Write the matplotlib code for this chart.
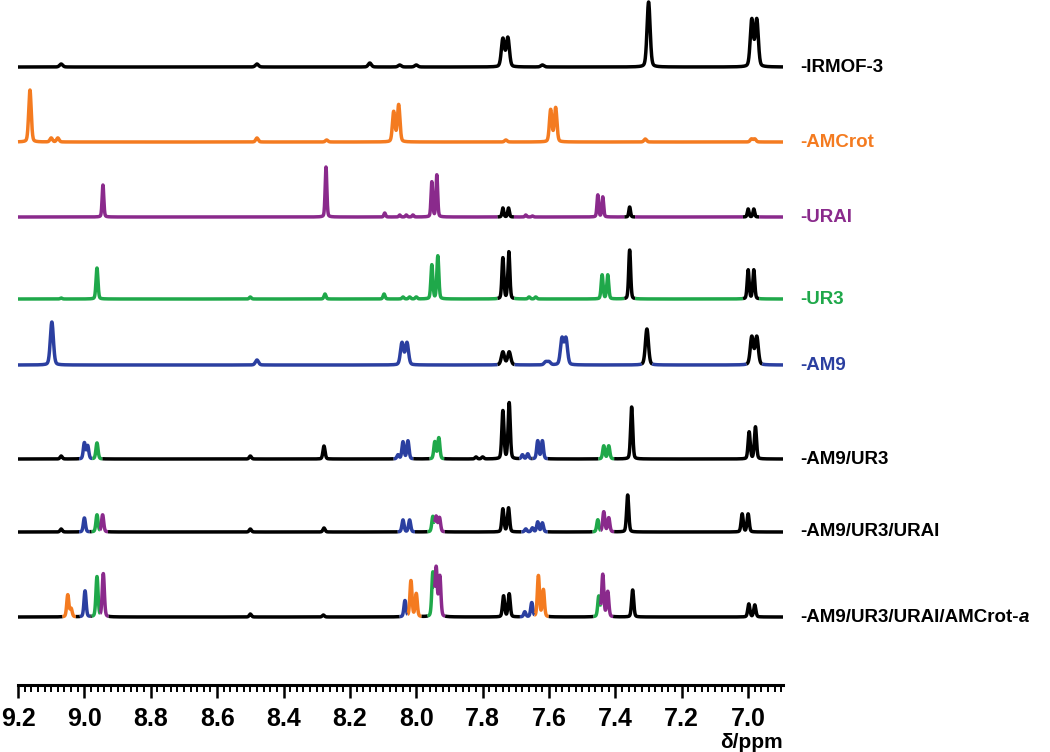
"""
Stacked 1H NMR spectra: IRMOF-3 and its modified forms.
Spectra are drawn as sums of pseudo-Voigt lines from the peak lists below.
"""
import numpy as np
import matplotlib
matplotlib.use("Agg")
import matplotlib.pyplot as plt

# peak lists per spectrum: (ppm, height, colour key); None -> trace colour
IRMOF3 = [(9.07, 3, None), (8.48, 3, None), (8.14, 4, None), (8.05, 2, None),
          (8.00, 2, None), (7.739, 28, None), (7.724, 29, None), (7.62, 2, None),
          (7.30, 65, None), (6.989, 47, None), (6.974, 47, None)]
AMCROT = [(9.164, 52, None), (9.10, 4, None), (9.08, 4, None), (8.48, 4, None),
          (8.27, 2, None), (8.068, 30, None), (8.053, 37, None), (7.73, 2, None),
          (7.595, 32, None), (7.58, 34, None), (7.31, 3, None), (6.99, 3, None),
          (6.98, 3, None)]
URAI = [(8.944, 32, None), (8.272, 50, None), (8.095, 4, None), (8.05, 2, None),
        (8.03, 2, None), (8.01, 2, None), (7.953, 35, None), (7.938, 42, None),
        (7.739, 9, "k"), (7.722, 9, "k"), (7.67, 2, None), (7.65, 1, None),
        (7.453, 22, None), (7.438, 20, None), (7.357, 10, "k"),
        (7.0, 8, "k"), (6.983, 8, "k")]
UR3 = [(9.07, 1, None), (8.962, 31, None), (8.50, 2, None), (8.275, 5, None),
       (8.097, 5, None), (8.04, 2, None), (8.02, 2, None), (8.0, 2, None),
       (7.953, 34, None), (7.935, 43, None), (7.739, 41, "k"), (7.721, 47, "k"),
       (7.66, 2, None), (7.64, 2, None), (7.44, 24, None), (7.423, 24, None),
       (7.357, 49, "k"), (7.0, 29, "k"), (6.983, 29, "k")]
AM9 = [(9.098, 43, None), (8.48, 5, None), (8.043, 22, None), (8.028, 22, None),
       (7.739, 13, "k"), (7.72, 13, "k"), (7.61, 3, None), (7.60, 3, None),
       (7.561, 26, None), (7.549, 26, None), (7.305, 36, "k"),
       (6.989, 28, "k"), (6.974, 28, "k")]
AM9_UR3 = [(9.07, 3, None), (9.0, 16, "b"), (8.99, 13, "b"), (8.962, 16, "g"),
           (8.50, 3, None), (8.278, 13, None), (8.055, 4, "b"), (8.04, 17, "b"),
           (8.025, 18, "b"), (7.944, 17, "g"), (7.932, 21, "g"), (7.82, 2, None),
           (7.80, 2, None), (7.739, 48, None), (7.72, 56, None), (7.68, 4, "b"),
           (7.664, 5, "b"), (7.634, 18, "b"), (7.62, 18, "b"), (7.435, 13, "g"),
           (7.42, 13, "g"), (7.351, 52, None), (6.997, 27, None), (6.978, 32, None)]
AM9_UR3_URAI = [(9.07, 3, None), (9.0, 14, "b"), (8.962, 17, "g"), (8.945, 17, "p"),
                (8.50, 3, None), (8.278, 4, None), (8.04, 12, "b"), (8.02, 12, "b"),
                (7.95, 15, "g"), (7.94, 15, "p"), (7.93, 14, "p"), (7.739, 23, None),
                (7.722, 24, None), (7.67, 3, "b"), (7.65, 4, "b"), (7.634, 10, "b"),
                (7.62, 9, "b"), (7.453, 12, "g"), (7.435, 20, "p"), (7.42, 14, "p"),
                (7.363, 37, None), (7.018, 18, None), (7.0, 18, None)]
ALL4 = [(9.05, 22, "o"), (9.04, 8, "o"), (8.998, 26, "b"), (8.962, 40, "g"),
        (8.943, 43, "p"), (8.50, 3, None), (8.28, 2, None), (8.034, 16, "b"),
        (8.016, 36, "o"), (8.0, 23, "o"), (7.95, 43, "g"), (7.94, 48, "p"),
        (7.929, 40, "p"), (7.737, 21, None), (7.72, 23, None), (7.673, 5, "b"),
        (7.652, 14, "b"), (7.632, 41, "o"), (7.617, 27, "o"), (7.45, 20, "g"),
        (7.438, 42, "p"), (7.423, 25, "p"), (7.348, 27, None), (6.998, 13, None),
        (6.98, 12, None)]

SPECTRA = [IRMOF3, AMCROT, URAI, UR3, AM9, AM9_UR3, AM9_UR3_URAI, ALL4]
LABELS = ["-IRMOF-3", "-AMCrot", "-URAI", "-UR3", "-AM9",
          "-AM9/UR3", "-AM9/UR3/URAI", "-AM9/UR3/URAI/AMCrot-"]
BASE = ["k", "o", "p", "g", "b", "k", "k", "k"]

# layout / style
OFFSET = [618, 543, 468, 386, 320, 226, 153, 68]   # baseline heights (axes units)
HWHM = [0.0055, 0.0045, 0.003, 0.0035, 0.0055, 0.0038, 0.0038, 0.0038]
ETA = 0.25                                          # Lorentzian fraction
COL = {"k": "#000000", "o": "#F47B20", "p": "#8A2A8C", "g": "#1FA84A", "b": "#2B3FA0"}
WIN = 0.016
X0, X1 = 9.2, 6.895
BOLD = ["Liberation Sans", "DejaVu Sans"]

fig = plt.figure(figsize=(10.5, 7.52), dpi=100)
ax = fig.add_axes([18 / 1050, 1 - 685 / 752, 765 / 1050, 685 / 752])
ax.set_xlim(X0, X1)
ax.set_ylim(0, 685)

x = np.linspace(X0, X1, 6000)
for peaks, base, off, w in zip(SPECTRA, BASE, OFFSET, HWHM):
    contrib = []
    for c, h, _ in peaks:
        d = (x - c) / w
        contrib.append(h * (ETA / (1 + d ** 2) + (1 - ETA) * np.exp(-np.log(2) * d ** 2)))
    contrib = np.array(contrib)
    y = contrib.sum(axis=0)
    top = contrib.argmax(axis=0)
    centers = np.array([c for c, _, _ in peaks])
    keys = [k if k else base for _, _, k in peaks]
    near = np.abs(x - centers[top]) < WIN
    cols = [keys[t] if n else base for t, n in zip(top, near)]
    # draw runs of the same colour
    start = 0
    for i in range(1, len(x) + 1):
        if i == len(x) or cols[i] != cols[start]:
            end = min(i + 1, len(x))
            ax.plot(x[start:end], y[start:end] + off, color=COL[cols[start]],
                    lw=2.5, solid_capstyle="butt", solid_joinstyle="round",
                    clip_on=False)
            start = i

for lab, base, off in zip(LABELS, BASE, OFFSET):
    yy = (1 - 685 / 752) + off / 752
    t = fig.text(800 / 1050, yy, lab, color=COL[base], fontsize=13.5,
                 fontweight="bold", family=BOLD, va="center", ha="left")
    if lab.endswith("-"):
        ax.annotate("a", xy=(1, 0), xycoords=t, va="bottom", ha="left",
                    fontsize=13.5, fontweight="bold", fontstyle="italic",
                    family=BOLD, color=COL[base])

for s in ["top", "left", "right"]:
    ax.spines[s].set_visible(False)
ax.spines["bottom"].set_linewidth(2.2)
ax.set_yticks([])
ax.set_xticks(np.arange(9.2, 6.89, -0.2))
ax.set_xticks(np.arange(9.2, 6.89, -0.02), minor=True)
ax.set_xticklabels([f"{v:.1f}" for v in np.arange(9.2, 6.89, -0.2)])
ax.tick_params(axis="x", which="major", direction="out", length=9, width=1.8, pad=7)
ax.tick_params(axis="x", which="minor", direction="out", length=5, width=1.4)
for lbl in ax.get_xticklabels():
    lbl.set_fontsize(18)
    lbl.set_fontweight("bold")
    lbl.set_family(BOLD)
fig.text(783 / 1050, 1 - 742 / 752, "δ/ppm", ha="right", va="center",
         fontsize=15, fontweight="bold", family=BOLD)

fig.savefig("out.png", dpi=100)
